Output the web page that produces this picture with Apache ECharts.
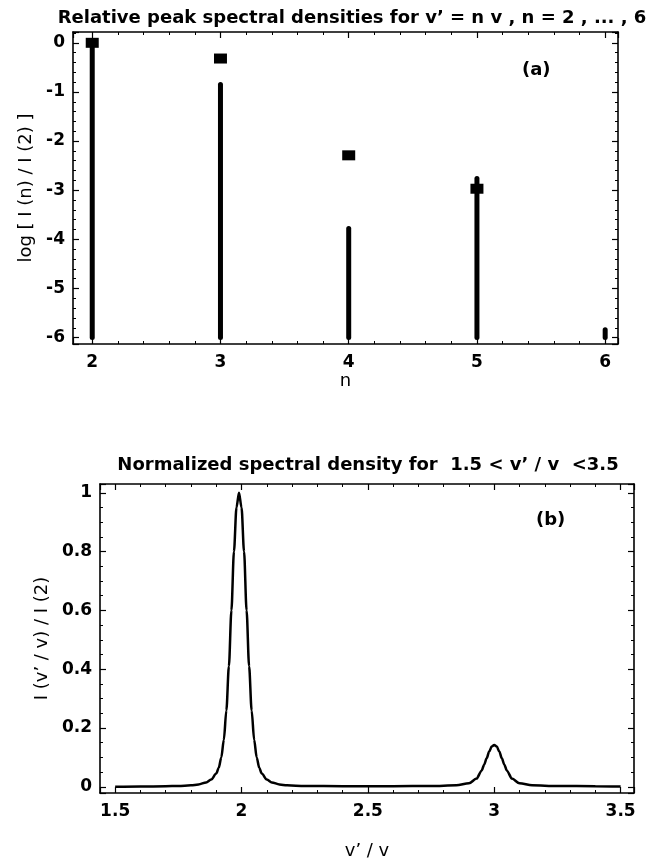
<!DOCTYPE html>
<html><head><meta charset="utf-8">
<script src="https://cdn.jsdelivr.net/npm/echarts@6/dist/echarts.min.js"></script>
<style>html,body{margin:0;padding:0;background:#fff}#c{width:658px;height:866px}</style>
</head><body><div id="c"></div>
<script>
// ---- Panel (a) data ----
const nValues = [2, 3, 4, 5, 6];
const peakLogValues = [0, -0.32, -2.29, -2.97];      // square markers, n = 2..5
const stemTops = [0, -0.85, -3.78, -2.76, -5.84];    // top of each vertical stem
const stemBottom = -6;

// ---- Panel (b) data ----
const specX = [1.5,1.6,1.7,1.75,1.8,1.83,1.86,1.88,1.9,1.91,1.92,1.93,1.94,1.95,1.96,1.97,1.98,1.99,
  2.0,2.01,2.02,2.03,2.04,2.05,2.06,2.07,2.08,2.1,2.12,2.15,2.18,2.25,2.4,2.6,2.75,2.85,2.9,2.93,2.95,
  2.96,2.97,2.98,2.99,3.0,3.01,3.02,3.03,3.04,3.05,3.07,3.1,3.15,3.25,3.4,3.5];
const specY = [0,0.001,0.002,0.003,0.005,0.008,0.015,0.025,0.045,0.065,0.1,0.16,0.26,0.41,0.6,0.8,0.95,1.0,
  0.95,0.8,0.6,0.41,0.26,0.16,0.1,0.065,0.045,0.025,0.015,0.008,0.005,0.003,0.002,0.002,0.003,0.005,0.012,0.028,0.055,
  0.075,0.097,0.12,0.137,0.142,0.137,0.12,0.097,0.075,0.055,0.028,0.012,0.005,0.003,0.002,0.001];

const FONT = "'DejaVu Sans', 'Liberation Sans', Arial, sans-serif";
const black = '#000';

function labelStyle(margin) {
  return { color: black, fontFamily: FONT, fontWeight: 'bold', fontSize: 17, margin: margin,
           showMinLabel: false, showMaxLabel: false };
}
function axisBase(extra) {
  return Object.assign({
    type: 'value',
    axisLine: { onZero: false, lineStyle: { color: black, width: 1.6 } },
    axisTick: { inside: true, length: 6, lineStyle: { color: black, width: 1.2 } },
    minorTick: { show: true, splitNumber: 5, length: 3, lineStyle: { color: black, width: 1 } },
    splitLine: { show: false },
    minorSplitLine: { show: false },
    axisLabel: labelStyle(8)
  }, extra);
}
const noLabel = { show: false };
const nameStyle = { fontFamily: FONT, fontSize: 18, color: black };

const chart = echarts.init(document.getElementById('c'));
const stemSeries = nValues.map((n, i) => ({
  type: 'line', xAxisIndex: 0, yAxisIndex: 0, silent: true,
  data: [[n, stemTops[i]], [n, stemBottom]],
  symbol: 'none',
  lineStyle: { color: black, width: 5, cap: 'round' }
}));

chart.setOption({
  animation: false,
  backgroundColor: '#fff',
  title: [
    { text: "Relative peak spectral densities for v\u2019 = n v , n = 2 , ... , 6", left: 347, textAlign: 'center', top: 4,
      textStyle: { fontFamily: FONT, fontWeight: 'bold', fontSize: 18, color: black } },
    { text: "Normalized spectral density for  1.5 < v\u2019 / v  <3.5", left: 363, textAlign: 'center', top: 451,
      textStyle: { fontFamily: FONT, fontWeight: 'bold', fontSize: 18, color: black } }
  ],
  grid: [
    { left: 73, top: 32, width: 545, height: 312 },
    { left: 100, top: 484, width: 534, height: 309 }
  ],
  xAxis: [
    axisBase({ gridIndex: 0, position: 'bottom', min: 1.85, max: 6.1,
      axisLabel: labelStyle(10),
      name: 'n', nameLocation: 'middle', nameGap: 27, nameTextStyle: nameStyle }),
    axisBase({ gridIndex: 0, position: 'top', min: 1.85, max: 6.1, axisLabel: noLabel }),
    axisBase({ gridIndex: 1, position: 'bottom', min: 1.44, max: 3.553,
      axisLabel: labelStyle(10),
      name: 'v\u2019 / v', nameLocation: 'middle', nameGap: 49, nameTextStyle: nameStyle }),
    axisBase({ gridIndex: 1, position: 'top', min: 1.44, max: 3.553, axisLabel: noLabel })
  ],
  yAxis: [
    axisBase({ gridIndex: 0, position: 'left', min: -6.13, max: 0.22,
      axisLabel: labelStyle(8),
      name: 'log [ I (n) / I (2) ]', nameLocation: 'middle', nameGap: 38, nameRotate: 90, nameTextStyle: nameStyle }),
    axisBase({ gridIndex: 0, position: 'right', min: -6.13, max: 0.22, axisLabel: noLabel }),
    axisBase({ gridIndex: 1, position: 'left', min: -0.021, max: 1.03,
      minorTick: { show: true, splitNumber: 4, length: 3, lineStyle: { color: black, width: 1 } },
      axisLabel: labelStyle(8),
      name: 'I (v\u2019 / v) / I (2)', nameLocation: 'middle', nameGap: 48, nameRotate: 90, nameTextStyle: nameStyle }),
    axisBase({ gridIndex: 1, position: 'right', min: -0.021, max: 1.03, axisLabel: noLabel,
      minorTick: { show: true, splitNumber: 4, length: 3, lineStyle: { color: black, width: 1 } } })
  ],
  graphic: [
    { type: 'text', left: 522, top: 61, style: { text: '(a)', font: "bold 18px 'DejaVu Sans', sans-serif", fill: black } },
    { type: 'text', left: 536, top: 511, style: { text: '(b)', font: "bold 18px 'DejaVu Sans', sans-serif", fill: black } }
  ],
  series: stemSeries.concat([
    { type: 'scatter', xAxisIndex: 0, yAxisIndex: 0, silent: true,
      data: peakLogValues.map((v, i) => [nValues[i], v]),
      symbol: 'rect', symbolSize: [13, 10], itemStyle: { color: black, opacity: 1 } },
    { type: 'line', xAxisIndex: 2, yAxisIndex: 2, silent: true,
      data: specX.map((x, i) => [x, specY[i]]),
      symbol: 'none', smooth: 0.3, smoothMonotone: 'x',
      lineStyle: { color: black, width: 2.5 } }
  ])
});
</script>
</body></html>
